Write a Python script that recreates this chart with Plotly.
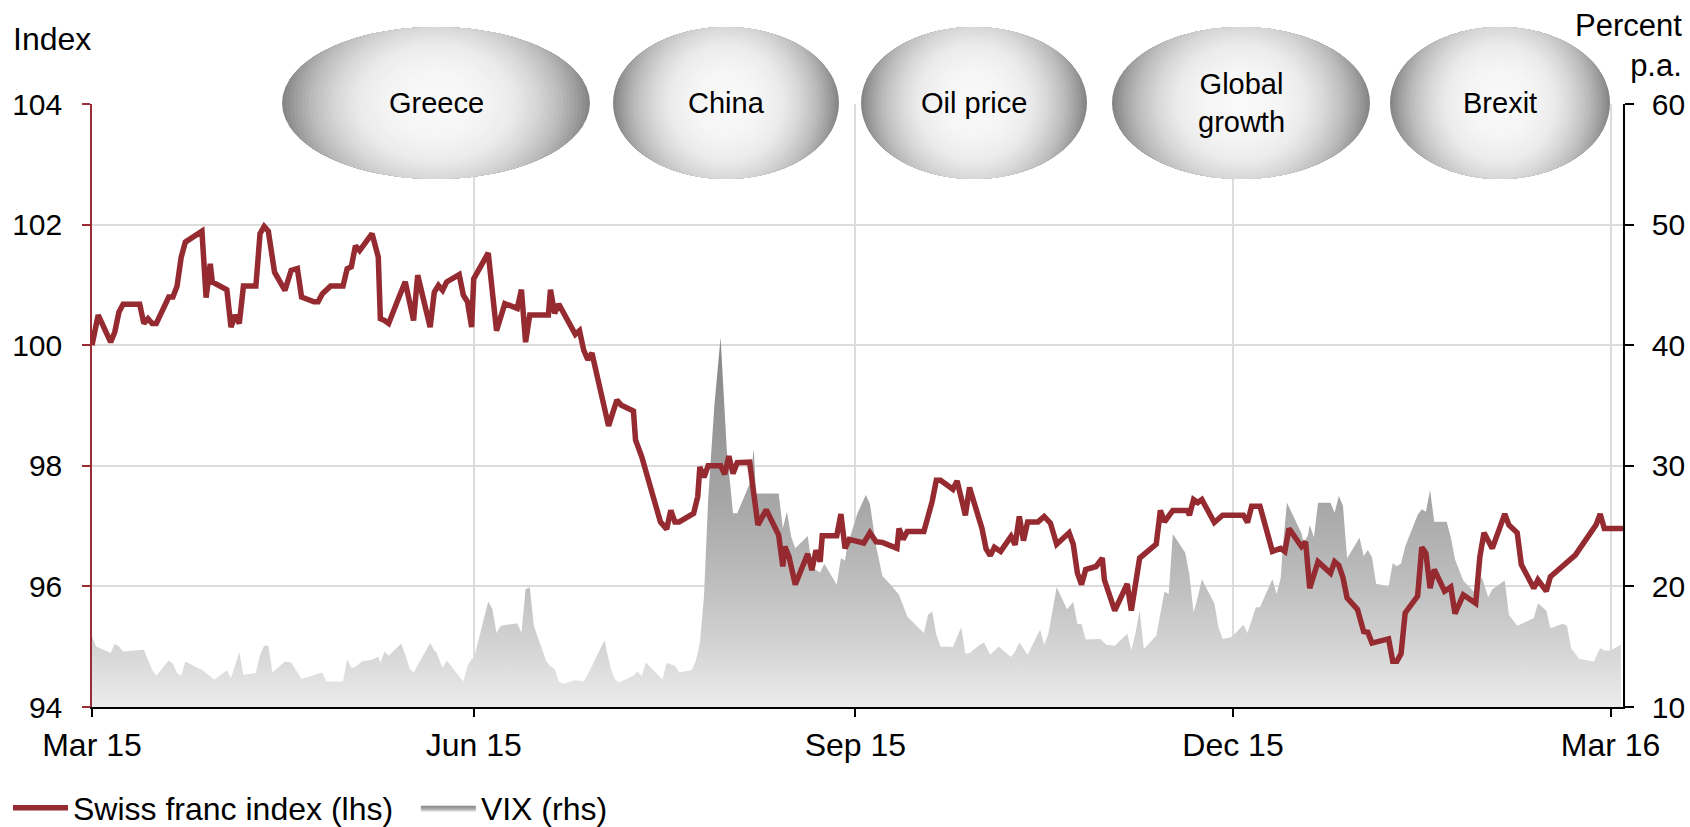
import numpy as np
import plotly.graph_objects as go

# ---------------- data ----------------
chf_dates = [
    "2015-03-01", "2015-03-02 12:00", "2015-03-05 12:00", "2015-03-06 12:00", "2015-03-07 12:00",
    "2015-03-08 12:00", "2015-03-12 12:00", "2015-03-13 12:00", "2015-03-14 12:00", "2015-03-15 12:00",
    "2015-03-16 12:00", "2015-03-19 12:00", "2015-03-20 12:00", "2015-03-21 12:00", "2015-03-22 12:00",
    "2015-03-23 12:00", "2015-03-27 12:00", "2015-03-28 12:00", "2015-03-29 12:00", "2015-03-30",
    # Apr
    "2015-04-02 12:00", "2015-04-03 12:00", "2015-04-04 12:00", "2015-04-05 12:00", "2015-04-06 12:00",
    "2015-04-09 12:00", "2015-04-10 12:00", "2015-04-11 12:00", "2015-04-12 12:00", "2015-04-14",
    "2015-04-16 12:00", "2015-04-18", "2015-04-19 12:00", "2015-04-20 12:00", "2015-04-23 12:00",
    "2015-04-24 12:00", "2015-04-25 12:00", "2015-04-27 12:00", "2015-04-30 12:00",
    # May
    "2015-05-01 12:00", "2015-05-02 12:00", "2015-05-03 12:00", "2015-05-04 12:00", "2015-05-07 12:00",
    "2015-05-09", "2015-05-09 12:00", "2015-05-10 12:00", "2015-05-11 12:00", "2015-05-14",
    "2015-05-15 12:00", "2015-05-17 12:00", "2015-05-18 12:00", "2015-05-21 12:00", "2015-05-22 12:00",
    "2015-05-23 12:00", "2015-05-24 12:00", "2015-05-25 12:00", "2015-05-28 12:00", "2015-05-29 12:00",
    "2015-05-30 12:00", "2015-05-31 12:00",
    # Jun
    "2015-06-01", "2015-06-04 12:00", "2015-06-06 12:00", "2015-06-08 12:00", "2015-06-11 12:00",
    "2015-06-12 12:00", "2015-06-13 12:00", "2015-06-14 12:00", "2015-06-19", "2015-06-19 12:00",
    "2015-06-20 12:00", "2015-06-21 12:00", "2015-06-23", "2015-06-25 12:00", "2015-06-26 12:00",
    "2015-06-27 12:00", "2015-06-28 12:00", "2015-06-29 12:00",
    # Jul
    "2015-07-03 12:00", "2015-07-05 12:00", "2015-07-06 12:00", "2015-07-09 12:00", "2015-07-10",
    "2015-07-11 12:00", "2015-07-16", "2015-07-17 12:00", "2015-07-18 12:00", "2015-07-19 12:00",
    "2015-07-20 12:00", "2015-07-24", "2015-07-25", "2015-07-25 12:00", "2015-07-26 12:00",
    "2015-07-27 12:00", "2015-07-30 12:00", "2015-07-31 12:00",
    # Aug
    "2015-08-01 12:00", "2015-08-02 12:00", "2015-08-03 12:00", "2015-08-06 12:00", "2015-08-08 12:00",
    "2015-08-10 12:00", "2015-08-13 12:00", "2015-08-14 12:00", "2015-08-15", "2015-08-16",
    "2015-08-17 12:00", "2015-08-20 12:00", "2015-08-21 12:00", "2015-08-22 12:00", "2015-08-23 12:00",
    "2015-08-24", "2015-08-27 12:00", "2015-08-28 12:00", "2015-08-29 12:00", "2015-08-30 12:00",
    # Sep
    "2015-09-03", "2015-09-04 12:00", "2015-09-06", "2015-09-07 12:00", "2015-09-11",
    "2015-09-11 12:00", "2015-09-12 12:00", "2015-09-13 12:00", "2015-09-17 12:00", "2015-09-19",
    "2015-09-19 12:00", "2015-09-20 12:00", "2015-09-21 12:00", "2015-09-24 12:00", "2015-09-25 12:00",
    "2015-09-27 12:00", "2015-09-28 12:00",
    # Oct
    "2015-10-01 12:00", "2015-10-02 12:00", "2015-10-03 12:00", "2015-10-04 12:00", "2015-10-06",
    "2015-10-08 12:00", "2015-10-09 12:00", "2015-10-10 12:00", "2015-10-11 12:00", "2015-10-12 12:00",
    "2015-10-15", "2015-10-16 12:00", "2015-10-18", "2015-10-19 12:00", "2015-10-22 12:00",
    "2015-10-23 12:00", "2015-10-24 12:00", "2015-10-25 12:00", "2015-10-26 12:00", "2015-10-29",
    "2015-10-30 12:00", "2015-10-31",
    # Nov
    "2015-11-02 12:00", "2015-11-05 12:00", "2015-11-06 12:00", "2015-11-07 12:00", "2015-11-08 12:00",
    "2015-11-12 12:00", "2015-11-13 12:00", "2015-11-14 12:00", "2015-11-16 12:00", "2015-11-20",
    "2015-11-20 12:00", "2015-11-21 12:00", "2015-11-22 12:00", "2015-11-23 12:00", "2015-11-26 12:00",
    "2015-11-28 12:00",
    # Dec
    "2015-12-03 12:00", "2015-12-04 12:00", "2015-12-05 12:00", "2015-12-07 12:00", "2015-12-10 12:00",
    "2015-12-12 12:00", "2015-12-13 12:00", "2015-12-14 12:00", "2015-12-17 12:00", "2015-12-18 12:00",
    "2015-12-19 12:00", "2015-12-21 12:00", "2015-12-24 12:00", "2015-12-25 12:00", "2015-12-26 12:00",
    "2015-12-27 12:00", "2015-12-28 12:00", "2015-12-31",
    # Jan
    "2016-01-01 12:00", "2016-01-02 12:00", "2016-01-03 12:00", "2016-01-07 12:00", "2016-01-08 12:00",
    "2016-01-09 12:00", "2016-01-10 12:00", "2016-01-11 12:00", "2016-01-14 12:00", "2016-01-15 12:00",
    "2016-01-16 12:00", "2016-01-17 12:00", "2016-01-18 12:00", "2016-01-21", "2016-01-22 12:00",
    "2016-01-23 12:00", "2016-01-25 12:00", "2016-01-28 12:00", "2016-01-29 12:00", "2016-01-30 12:00",
    # Feb / Mar
    "2016-02-01 12:00", "2016-02-04 12:00", "2016-02-05 12:00", "2016-02-07 12:00", "2016-02-08 12:00",
    "2016-02-11 12:00", "2016-02-12 12:00", "2016-02-14 12:00", "2016-02-15 12:00", "2016-02-21 12:00",
    "2016-02-25 12:00", "2016-02-26 12:00", "2016-02-27 12:00", "2016-02-28 12:00", "2016-03-04",
]
chf_values = [
    100.00, 100.50, 100.05, 100.22, 100.55,
    100.68, 100.68, 100.36, 100.44, 100.36,
    100.36, 100.80, 100.80, 100.98, 101.46,
    101.71, 101.89, 100.79, 101.35, 101.05,
    # Apr
    100.92, 100.30, 100.50, 100.36, 100.98,
    100.98, 101.85, 101.97, 101.89, 101.21,
    100.91, 101.24, 101.27, 100.80, 100.72,
    100.72, 100.85, 100.98, 100.98,
    # May
    101.27, 101.30, 101.65, 101.57, 101.85,
    101.46, 100.44, 100.41, 100.36, 100.80,
    101.05, 100.41, 101.16, 100.30, 100.88,
    100.99, 100.91, 101.05, 101.17, 100.83,
    100.72, 100.30,
    # Jun
    101.10, 101.53, 100.24, 100.69, 100.61,
    100.92, 100.05, 100.50, 100.50, 100.92,
    100.53, 100.68, 100.50, 100.18, 100.24,
    99.92, 99.76, 99.87,
    # Jul
    98.66, 99.09, 99.01, 98.91, 98.43,
    98.15, 97.07, 96.95, 97.26, 97.07,
    97.07, 97.21, 97.49, 97.98, 97.81,
    98.00, 98.00, 97.86,
    # Aug
    98.16, 97.87, 98.05, 98.06, 97.02,
    97.27, 96.85, 96.33, 96.66, 96.49,
    96.03, 96.54, 96.27, 96.60, 96.41,
    96.84, 96.84, 97.20, 96.63, 96.78,
    # Sep
    96.72, 96.89, 96.74, 96.73, 96.63,
    96.96, 96.78, 96.91, 96.91, 97.24,
    97.41, 97.76, 97.76, 97.61, 97.75,
    97.18, 97.64,
    # Oct
    96.96, 96.62, 96.51, 96.65, 96.58,
    96.83, 96.69, 97.16, 96.76, 97.07,
    97.07, 97.16, 97.05, 96.70, 96.89,
    96.70, 96.22, 96.03, 96.28, 96.33,
    96.47, 96.11,
    # Nov
    95.60, 96.04, 95.60, 96.00, 96.47,
    96.70, 97.26, 97.07, 97.26, 97.26,
    97.18, 97.44, 97.39, 97.44, 97.06,
    97.18,
    # Dec
    97.18, 97.06, 97.33, 97.33, 96.58,
    96.63, 96.58, 96.96, 96.66, 96.74,
    95.97, 96.41, 96.22, 96.41, 96.35,
    96.15, 95.81, 95.62,
    # Jan
    95.25, 95.24, 95.06, 95.13, 94.76,
    94.76, 94.88, 95.56, 95.84, 96.65,
    96.55, 95.97, 96.28, 95.92, 95.99,
    95.55, 95.86, 95.72, 96.49, 96.89,
    # Feb / Mar
    96.63, 97.20, 97.02, 96.89, 96.36,
    95.97, 96.11, 95.92, 96.16, 96.52,
    96.91, 97.02, 97.20, 96.96, 96.96,
]

vix_dates = [
    "2015-03-01", "2015-03-02", "2015-03-05 12:00", "2015-03-06 12:00", "2015-03-07 12:00",
    "2015-03-08 12:00", "2015-03-13 12:00", "2015-03-15 12:00", "2015-03-16 12:00", "2015-03-19 12:00",
    "2015-03-20 12:00", "2015-03-21 12:00", "2015-03-22 12:00", "2015-03-23 12:00", "2015-03-26 12:00",
    "2015-03-27 12:00", "2015-03-29", "2015-03-30 12:00",
    # Apr
    "2015-04-02 12:00", "2015-04-03 12:00", "2015-04-05 12:00", "2015-04-06 12:00", "2015-04-09 12:00",
    "2015-04-10 12:00", "2015-04-11 12:00", "2015-04-12 12:00", "2015-04-13 12:00", "2015-04-16 12:00",
    "2015-04-18", "2015-04-20 12:00", "2015-04-25 12:00", "2015-04-26 12:00", "2015-04-30 12:00",
    # May
    "2015-05-01 12:00", "2015-05-02 12:00", "2015-05-03 12:00", "2015-05-05", "2015-05-07 12:00",
    "2015-05-09", "2015-05-09 12:00", "2015-05-10 12:00", "2015-05-11 12:00", "2015-05-14 12:00",
    "2015-05-15 12:00", "2015-05-16 12:00", "2015-05-17 12:00", "2015-05-19", "2015-05-21 12:00",
    "2015-05-22 12:00", "2015-05-23", "2015-05-24 12:00", "2015-05-25 12:00", "2015-05-28",
    "2015-05-29 12:00", "2015-05-30 12:00", "2015-05-31 12:00",
    # Jun
    "2015-06-01", "2015-06-04 12:00", "2015-06-05 12:00", "2015-06-06 12:00", "2015-06-07 12:00",
    "2015-06-11 12:00", "2015-06-12 12:00", "2015-06-13 12:00", "2015-06-14 12:00", "2015-06-15 12:00",
    "2015-06-18 12:00", "2015-06-19 12:00", "2015-06-20 12:00", "2015-06-21 12:00", "2015-06-22 12:00",
    "2015-06-25 12:00", "2015-06-27 12:00", "2015-06-28 12:00", "2015-06-30",
    # Jul
    "2015-07-02 12:00", "2015-07-04", "2015-07-05", "2015-07-06", "2015-07-09 12:00",
    "2015-07-10 12:00", "2015-07-11 12:00", "2015-07-12 12:00", "2015-07-16 12:00", "2015-07-17 12:00",
    "2015-07-19 12:00", "2015-07-20 12:00", "2015-07-23 12:00", "2015-07-24 12:00", "2015-07-25 12:00",
    "2015-07-26 12:00", "2015-07-27 12:00", "2015-07-29", "2015-07-30 12:00",
    # Aug
    "2015-08-01", "2015-08-02 12:00", "2015-08-03 12:00", "2015-08-06 12:00", "2015-08-07 12:00",
    "2015-08-08", "2015-08-10 12:00", "2015-08-13 12:00", "2015-08-14 12:00", "2015-08-15 12:00",
    "2015-08-16 12:00", "2015-08-17 12:00", "2015-08-20 12:00", "2015-08-21 12:00", "2015-08-22 12:00",
    "2015-08-23 12:00", "2015-08-24 12:00", "2015-08-27 12:00", "2015-08-28 12:00", "2015-08-29 12:00",
    "2015-08-30",
    # Sep
    "2015-09-01 12:00", "2015-09-03 12:00", "2015-09-04 12:00", "2015-09-06", "2015-09-07 12:00",
    "2015-09-09 12:00", "2015-09-11 12:00", "2015-09-13 12:00", "2015-09-15", "2015-09-17 12:00",
    "2015-09-18 12:00", "2015-09-19 12:00", "2015-09-20 12:00", "2015-09-21 12:00", "2015-09-24 12:00",
    "2015-09-26 12:00", "2015-09-27 12:00", "2015-09-28 12:00",
    # Oct
    "2015-10-01", "2015-10-02", "2015-10-03 12:00", "2015-10-05 12:00", "2015-10-08 12:00",
    "2015-10-09 12:00", "2015-10-10 12:00", "2015-10-12 12:00", "2015-10-15 12:00", "2015-10-16 12:00",
    "2015-10-17 12:00", "2015-10-19 12:00", "2015-10-22", "2015-10-23 12:00", "2015-10-24 12:00",
    "2015-10-25 12:00", "2015-10-26 12:00", "2015-10-30", "2015-10-31 12:00",
    # Nov
    "2015-11-02 12:00", "2015-11-05 12:00", "2015-11-06 12:00", "2015-11-07 12:00", "2015-11-08 12:00",
    "2015-11-09 12:00", "2015-11-12 12:00", "2015-11-14 12:00", "2015-11-15 12:00", "2015-11-16 12:00",
    "2015-11-19 12:00", "2015-11-20 12:00", "2015-11-21 12:00", "2015-11-22 12:00", "2015-11-23 12:00",
    "2015-11-26 12:00", "2015-11-27 12:00", "2015-11-28 12:00", "2015-11-30 12:00",
    # Dec
    "2015-12-02", "2015-12-03 12:00", "2015-12-04 12:00", "2015-12-06 12:00", "2015-12-07 12:00",
    "2015-12-10 12:00", "2015-12-11 12:00", "2015-12-12 12:00", "2015-12-13", "2015-12-14",
    "2015-12-17 12:00", "2015-12-18", "2015-12-19", "2015-12-19 12:00", "2015-12-20 12:00",
    "2015-12-21 12:00", "2015-12-24 12:00", "2015-12-25 12:00", "2015-12-26 12:00", "2015-12-27 12:00",
    "2015-12-28 12:00", "2015-12-31 12:00",
    # Jan
    "2016-01-01 12:00", "2016-01-02 12:00", "2016-01-03 12:00", "2016-01-04 12:00", "2016-01-07 12:00",
    "2016-01-08 12:00", "2016-01-09 12:00", "2016-01-10 12:00", "2016-01-11 12:00", "2016-01-14 12:00",
    "2016-01-15 12:00", "2016-01-16 12:00", "2016-01-17 12:00", "2016-01-18 12:00", "2016-01-21 12:00",
    "2016-01-22 12:00", "2016-01-23 12:00", "2016-01-25 12:00", "2016-01-28", "2016-01-30",
    "2016-01-31 12:00",
    # Feb / Mar
    "2016-02-01 12:00", "2016-02-04 12:00", "2016-02-05 12:00", "2016-02-07 12:00", "2016-02-11 12:00",
    "2016-02-12 12:00", "2016-02-14 12:00", "2016-02-15 12:00", "2016-02-18 12:00", "2016-02-19 12:00",
    "2016-02-20 12:00", "2016-02-22 12:00", "2016-02-26", "2016-02-26 12:00", "2016-02-27 12:00",
    "2016-02-28 12:00", "2016-03-01", "2016-03-03 12:00",
]
vix_values = [
    15.85, 15.02, 14.47, 15.24, 15.02,
    14.61, 14.75, 13.09, 12.59, 13.86,
    13.59, 12.81, 12.59, 13.78, 13.23,
    13.09, 12.68, 12.26,
    # Apr
    13.04, 12.40, 14.53, 12.68, 12.81,
    14.33, 15.08, 15.08, 12.87, 13.78,
    13.70, 12.32, 12.87, 12.12, 12.12,
    # May
    13.97, 13.23, 13.31, 13.78, 13.92,
    14.19, 13.64, 14.61, 14.25, 15.24,
    14.33, 13.23, 12.85, 13.78, 15.30,
    14.69, 14.53, 13.23, 13.86, 12.76,
    12.12, 13.37, 13.97,
    # Jun
    13.97, 18.75, 18.11, 16.13, 16.73,
    16.95, 16.13, 19.77, 19.93, 16.73,
    13.78, 13.37, 13.15, 12.12, 11.93,
    12.21, 12.12, 12.68, 13.78,
    # Jul
    15.52, 13.23, 12.32, 12.04, 12.59,
    12.95, 12.54, 13.70, 12.26, 13.64,
    13.42, 12.87, 13.04, 13.78, 15.30,
    19.16, 27.16, 35.03, 40.63,
    # Aug
    31.30, 26.06, 26.06, 28.50, 31.40,
    27.71, 27.71, 27.71, 24.82, 26.20,
    24.13, 23.16, 24.18, 21.70, 21.37,
    21.15, 21.87, 20.13, 22.33, 22.14,
    23.30,
    # Sep
    26.06, 27.58, 26.83, 23.30, 20.87,
    20.13, 19.30, 17.51, 17.01, 16.13,
    17.64, 17.92, 15.99, 15.02, 14.97,
    16.62, 14.42, 14.47,
    # Oct
    15.16, 15.35, 14.33, 15.02, 14.14,
    14.61, 15.35, 14.33, 16.40, 15.16,
    16.07, 19.93, 18.11, 18.70, 16.90,
    16.86, 15.60, 15.63, 15.16,
    # Nov
    15.08, 16.07, 14.69, 16.13, 18.00,
    14.80, 15.91, 19.58, 19.38, 24.35,
    22.80, 20.95, 17.84, 19.11, 20.60,
    18.61, 16.62, 15.63, 15.79,
    # Dec
    16.26, 16.82, 16.13, 18.28, 18.28,
    20.60, 19.38, 20.68, 23.25, 26.94,
    24.40, 23.63, 24.18, 25.09, 24.07,
    26.94, 26.94, 26.11, 27.49, 26.70,
    22.33, 24.03,
    # Jan
    22.53, 23.02, 22.42, 20.21, 19.99,
    21.92, 21.67, 21.90, 23.30, 25.92,
    26.39, 26.20, 27.99, 25.37, 25.37,
    24.07, 22.25, 20.49, 19.58, 20.76,
    19.11,
    # Feb / Mar
    19.77, 20.49, 17.64, 16.73, 17.37,
    18.61, 18.00, 16.54, 16.90, 16.73,
    14.88, 13.97, 13.78, 14.14, 14.88,
    14.69, 14.69, 15.16,
]

event_labels = ["Greece", "China", "Oil price", "Global<br>growth", "Brexit"]

# ---------------- layout geometry (pixels) ----------------
FIG_W, FIG_H = 1690, 827
M_L, M_R, M_T, M_B = 92, 67, 104, 120
PW = FIG_W - M_L - M_R
PH = FIG_H - M_T - M_B
PLOT_BOTTOM = FIG_H - M_B

ev_cx = [436, 726, 974, 1241, 1500]
ev_hw = [154, 113, 113, 129, 110]
ev_cy = 103
ev_hh = 76
SHADE_C = 0.65  # vertical compression of the shading contours


def px2paper(px, py):
    return (px - M_L) / PW, (PLOT_BOTTOM - py) / PH


def shade(t):
    return int(round(np.interp(t, [0, 0.3, 0.5, 0.65, 0.8, 0.9, 1.0],
                                  [250, 245, 235, 215, 188, 162, 130])))


def ell_r(theta, a, b):
    return 1 / np.sqrt((np.cos(theta) / a) ** 2 + (np.sin(theta) / b) ** 2)


RED = "#952a30"
AX_RED = "#9b2c33"
FONT = "Liberation Sans, Arial, sans-serif"

fig = go.Figure()

fig.add_trace(go.Scatter(
    x=vix_dates, y=vix_values, mode="lines", name="VIX (rhs)",
    line=dict(width=0, color="#9a9a9a"), fill="tozeroy", fillcolor="#aaaaaa",
    fillgradient=dict(type="vertical", start=10, stop=41,
                      colorscale=[[0, "#ececec"], [0.16, "#d4d4d4"], [0.32, "#bfbfbf"],
                                  [0.55, "#a6a6a6"], [0.75, "#979797"], [1, "#858585"]]),
    yaxis="y", legendrank=2, hoverinfo="skip",
))
fig.add_trace(go.Scatter(
    x=chf_dates, y=chf_values, mode="lines", name="Swiss franc index (lhs)\u00a0\u00a0",
    line=dict(width=5.5, color=RED), yaxis="y2", legendrank=1,
))

# ellipses with radial shading (stacked contour layers)
shapes = []
theta = np.linspace(0, 2 * np.pi, 121)
NLEV = 40
for cx, a in zip(ev_cx, ev_hw):
    b = ev_hh
    r_outer = ell_r(theta, a, b)
    for k in range(NLEV):
        t = 1 - k / NLEV
        g = shade(t - 0.5 / NLEV)
        rho = np.minimum(ell_r(theta, a * t, b * t / SHADE_C), r_outer)
        pts = [px2paper(cx + r * np.cos(th), ev_cy + r * np.sin(th)) for r, th in zip(rho, theta)]
        path = "M " + " L ".join(f"{x:.5f},{y:.5f}" for x, y in pts) + " Z"
        shapes.append(dict(type="path", path=path, xref="paper", yref="paper",
                           fillcolor=f"rgb({g},{g},{g})", line=dict(width=0), layer="above"))

annotations = []
for lab, cx in zip(event_labels, ev_cx):
    x, y = px2paper(cx, ev_cy)
    annotations.append(dict(text=lab, x=x, y=y, xref="paper", yref="paper", showarrow=False,
                            xanchor="center", yanchor="middle", font=dict(size=29, color="black")))

ix, iy = px2paper(11, 39)
annotations.append(dict(text="Index", x=ix, y=iy, xref="paper", yref="paper", showarrow=False,
                        xanchor="left", yanchor="middle", font=dict(size=32, color="black")))
px_, py_ = px2paper(1684, 46)
annotations.append(dict(text="Percent<br>p.a.", x=px_, y=py_, xref="paper", yref="paper",
                        showarrow=False, xanchor="right", yanchor="middle", align="right",
                        font=dict(size=31, color="black")))

lx, ly = px2paper(8, 808)

fig.update_layout(
    width=FIG_W, height=FIG_H,
    margin=dict(l=M_L, r=M_R, t=M_T, b=M_B, pad=0, autoexpand=False),
    paper_bgcolor="white", plot_bgcolor="white",
    font=dict(family=FONT, size=30, color="black"),
    showlegend=True,
    legend=dict(orientation="h", x=lx, y=ly, xanchor="left", yanchor="middle",
                font=dict(size=32, color="black"), itemwidth=55, bgcolor="rgba(0,0,0,0)"),
    xaxis=dict(type="date", range=["2015-03-01", "2016-03-04"], dtick="M3", tick0="2015-03-01",
               tickformat="%b %y", ticks="outside", ticklen=8, tickwidth=1.5, tickcolor="black",
               showline=True, linecolor="black", linewidth=2, showgrid=True, gridcolor="#dcdcdc",
               gridwidth=1.5, zeroline=False, tickfont=dict(size=32), ticklabelstandoff=1),
    yaxis=dict(range=[10, 60], dtick=10, side="right", showline=True, linecolor="black",
               linewidth=1.5, ticks="outside", ticklen=9, tickwidth=1.5, tickcolor="black",
               showgrid=True, gridcolor="#dcdcdc", gridwidth=1.5, zeroline=False,
               tickfont=dict(size=30), ticklabelstandoff=12),
    yaxis2=dict(range=[94, 104], dtick=2, side="left", overlaying="y", showline=True,
                linecolor=AX_RED, linewidth=1.5, ticks="outside", ticklen=8, tickwidth=1.5,
                tickcolor=AX_RED, showgrid=False, zeroline=False, tickfont=dict(size=30),
                ticklabelstandoff=14),
    shapes=shapes,
    annotations=annotations,
)

fig.write_html(
    "out.html",
    config={"displayModeBar": False},
    post_script="document.body.style.margin='0';document.body.style.padding='0';"
                "document.documentElement.style.overflow='hidden';",
)
